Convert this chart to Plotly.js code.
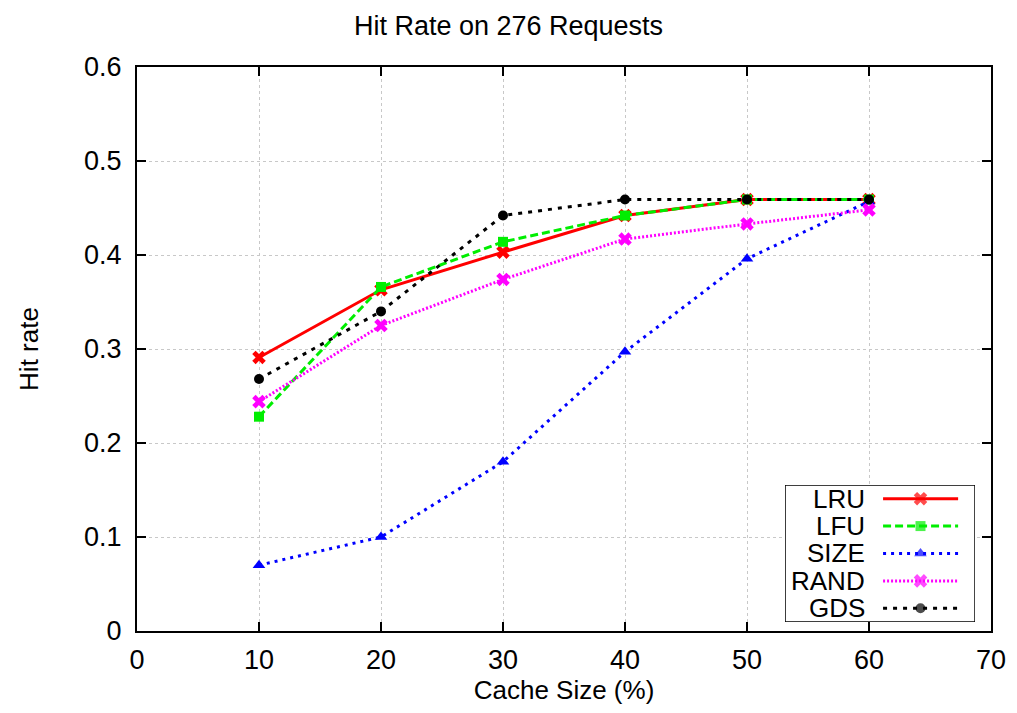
<!DOCTYPE html>
<html>
<head>
<meta charset="utf-8">
<script src="https://cdn.plot.ly/plotly-3.0.1.min.js"></script>
<style>html,body{margin:0;padding:0;background:#fff;}#chart{width:1017px;height:713px;}</style>
</head>
<body>
<div id="chart"></div>
<script>
// ---- data ----
const cacheSize = [10, 20, 30, 40, 50, 60];
const seriesNames = ["LRU", "LFU", "SIZE", "RAND", "GDS"];
const lru  = [0.291, 0.363, 0.403, 0.442, 0.459, 0.459];
const lfu  = [0.228, 0.366, 0.414, 0.442, 0.459, 0.459];
const size = [0.070, 0.100, 0.180, 0.297, 0.396, 0.457];
const rand = [0.244, 0.325, 0.374, 0.417, 0.433, 0.448];
const gds  = [0.268, 0.340, 0.442, 0.459, 0.459, 0.459];
const xTicks = [0, 10, 20, 30, 40, 50, 60, 70];
const yTicks = [0, 0.1, 0.2, 0.3, 0.4, 0.5, 0.6];
const yTickLabels = ["0", "0.1", "0.2", "0.3", "0.4", "0.5", "0.6"];

// ---- styles ----
const styles = [
  {color: "#ff0000", dash: "solid",        symbol: "x",           msize: 12},
  {color: "#00ee00", dash: "8px,4px",      symbol: "square",      msize: 10},
  {color: "#0000ff", dash: "3px,5px",      symbol: "triangle-up", msize: 11},
  {color: "#ff00ff", dash: "2px,2px",      symbol: "x",           msize: 12},
  {color: "#000000", dash: "4px,6px",      symbol: "circle",      msize: 10}
];
const allValues = [lru, lfu, size, rand, gds];

const traces = allValues.map((vals, i) => ({
  type: "scatter", mode: "lines+markers", name: seriesNames[i],
  x: cacheSize, y: vals, xaxis: "x", yaxis: "y", showlegend: false,
  line: {color: styles[i].color, width: 3, dash: styles[i].dash},
  marker: {color: styles[i].color, symbol: styles[i].symbol, size: styles[i].msize, line: {width: 0}},
  hoverinfo: "x+y+name"
}));

// ---- custom gnuplot-style legend (text left, sample right) ----
const legX = {textRight: 0.432, lineStart: 0.516, mid: 0.713, lineEnd: 0.911};
seriesNames.forEach((name, i) => {
  traces.push({
    type: "scatter", mode: "lines+markers", xaxis: "x2", yaxis: "y2", showlegend: false,
    x: [legX.lineStart, legX.mid, legX.lineEnd], y: [i + 1, i + 1, i + 1],
    line: {color: styles[i].color, width: 3, dash: styles[i].dash},
    marker: {color: styles[i].color, symbol: styles[i].symbol, size: [0, styles[i].msize, 0], line: {width: 0}},
    hoverinfo: "skip"
  });
});
const fontFam = "Liberation Sans, Arial, Helvetica, sans-serif";
const legendAnnotations = seriesNames.map((name, i) => ({
  xref: "x2", yref: "y2", x: legX.textRight, y: i + 1, xanchor: "right", yanchor: "middle",
  text: name, showarrow: false, font: {family: fontFam, size: 26, color: "#000"}
}));

const axisCommon = {
  showline: true, linecolor: "#000", linewidth: 2, mirror: "ticks",
  ticks: "inside", ticklen: 9, tickwidth: 1.5, tickcolor: "#000",
  showgrid: true, gridcolor: "#c8c8c8", gridwidth: 1, griddash: "dot",
  zeroline: false, tickfont: {family: fontFam, size: 27, color: "#000"}
};

const layout = {
  width: 1017, height: 713,
  margin: {l: 137, r: 26, t: 67, b: 82},
  paper_bgcolor: "#fff", plot_bgcolor: "#fff",
  showlegend: false,
  title: {text: "Hit Rate on 276 Requests", font: {family: fontFam, size: 27, color: "#000"},
          x: 0.5, xanchor: "center", y: 0.964, yanchor: "middle"},
  xaxis: Object.assign({}, axisCommon, {
    range: [0, 70], tickvals: xTicks, ticktext: xTicks.map(String), ticklabelstandoff: 4,
    title: {text: "Cache Size (%)", font: {family: fontFam, size: 26, color: "#000"}, standoff: 6},
    domain: [0, 1]
  }),
  yaxis: Object.assign({}, axisCommon, {
    range: [0, 0.6], tickvals: yTicks, ticktext: yTickLabels, ticklabelstandoff: 8,
    title: {text: "Hit rate", font: {family: fontFam, size: 26, color: "#000"}, standoff: 38},
    domain: [0, 1]
  }),
  xaxis2: {domain: [0.7588, 0.9813], range: [0, 1], anchor: "y2", visible: false, fixedrange: true},
  yaxis2: {domain: [0.016, 0.2589], range: [5.5, 0.5], anchor: "x2", visible: false, fixedrange: true},
  shapes: [{
    type: "rect", xref: "x2", yref: "y2", x0: 0, x1: 1, y0: 0.5, y1: 5.5,
    fillcolor: "#fff", line: {color: "#000", width: 1.5}, layer: "below"
  }],
  annotations: legendAnnotations
};

Plotly.newPlot("chart", traces, layout, {displayModeBar: false, staticPlot: true});
</script>
</body>
</html>
